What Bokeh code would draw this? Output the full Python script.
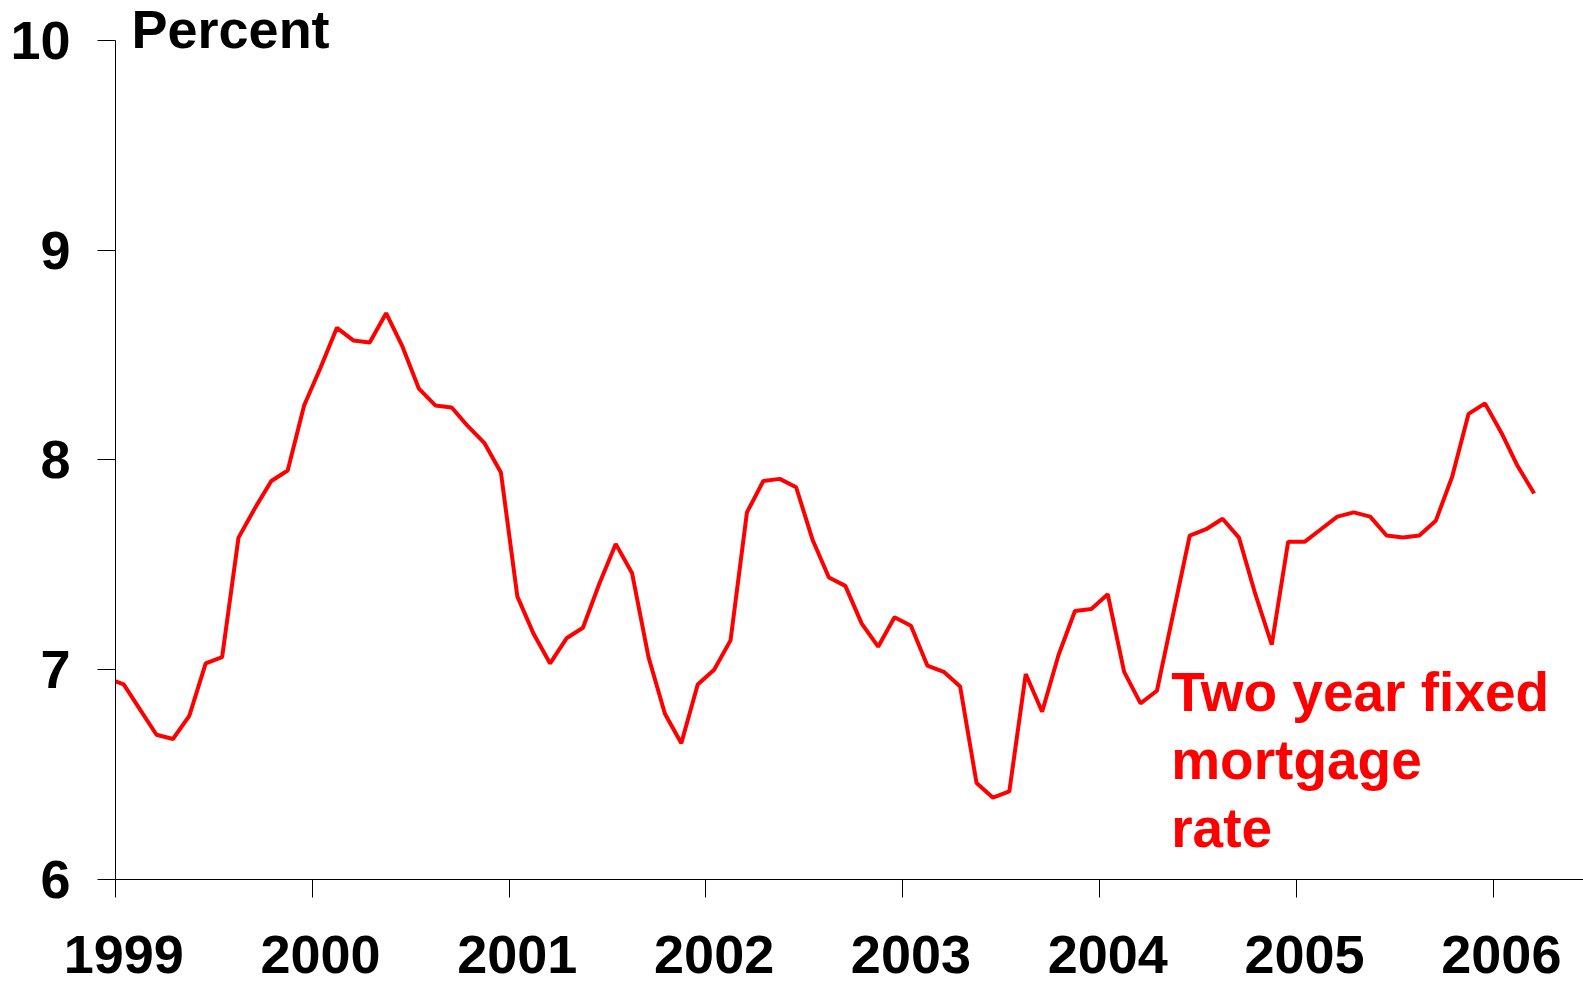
from bokeh.plotting import figure
from bokeh.models import Range1d, FixedTicker, CustomJSTickFormatter, Label
from bokeh.embed import file_html
from bokeh.resources import INLINE

# ---- data ----
start_year = 1998
start_month = 12  # first observation: December 1998 (monthly, plotted mid-month)
rate = [
    6.96,
    6.93, 6.81, 6.69, 6.67, 6.78, 7.03, 7.06, 7.63, 7.77, 7.90, 7.95, 8.26,
    8.44, 8.63, 8.57, 8.56, 8.70, 8.54, 8.34, 8.26, 8.25, 8.16, 8.08, 7.94,
    7.35, 7.17, 7.03, 7.15, 7.20, 7.41, 7.60, 7.46, 7.06, 6.79, 6.65, 6.93,
    7.00, 7.14, 7.75, 7.90, 7.91, 7.87, 7.62, 7.44, 7.40, 7.22, 7.11, 7.25,
    7.21, 7.02, 6.99, 6.92, 6.46, 6.39, 6.42, 6.98, 6.80, 7.07, 7.28, 7.29,
    7.36, 6.99, 6.84, 6.90, 7.27, 7.64, 7.67, 7.72, 7.63, 7.36, 7.12, 7.61,
    7.61, 7.67, 7.73, 7.75, 7.73, 7.64, 7.63, 7.64, 7.71, 7.92, 8.22, 8.27,
    8.13, 7.97, 7.84,
]
year_ticks = [1999, 2000, 2001, 2002, 2003, 2004, 2005, 2006]
y_ticks = [6, 7, 8, 9, 10]
series_label = "Two year fixed\nmortgage\nrate"
y_unit = "Percent"

# decimal-year positions (mid-month)
t = [start_year + (start_month - 1 + i + 0.5) / 12 for i in range(len(rate))]

FONT = "Liberation Sans"
FS = "54px"

p = figure(
    width=1583, height=983,
    x_range=Range1d(1999, 2006.459), y_range=Range1d(6, 10.1907),
    output_backend="svg", toolbar_location=None,
    min_border_left=115, min_border_right=0, min_border_top=0, min_border_bottom=104,
)
p.outline_line_color = None
p.xgrid.grid_line_color = None
p.ygrid.grid_line_color = None
p.background_fill_color = "white"
p.border_fill_color = "white"

p.line(t, rate, line_color="#FF0000", line_width=4)

# x axis: tick marks at year boundaries (minor), labels centred mid-January (major)
xa = p.xaxis[0]
xa.ticker = FixedTicker(ticks=[y + 1 / 24 for y in year_ticks], minor_ticks=year_ticks)
xa.formatter = CustomJSTickFormatter(code="return Math.floor(tick).toString();")
xa.major_tick_out = 0
xa.major_tick_in = 0
xa.minor_tick_out = 18
xa.minor_tick_in = 0
xa.minor_tick_line_color = "black"
xa.axis_line_color = "black"
xa.major_label_text_font = FONT
xa.major_label_text_font_style = "bold"
xa.major_label_text_font_size = FS
xa.major_label_text_color = "black"
xa.major_label_standoff = 38

ya = p.yaxis[0]
ya.ticker = FixedTicker(ticks=y_ticks, minor_ticks=[])
ya.bounds = (6, 10)
ya.major_tick_out = 18
ya.major_tick_in = 0
ya.minor_tick_out = 0
ya.minor_tick_in = 0
ya.axis_line_color = "black"
ya.major_tick_line_color = "black"
ya.major_label_text_font = FONT
ya.major_label_text_font_style = "bold"
ya.major_label_text_font_size = FS
ya.major_label_text_color = "black"
ya.major_label_standoff = 27

p.add_layout(Label(x=1999, y=10, x_offset=16, y_offset=11, text=y_unit,
                   text_font=FONT, text_font_style="bold", text_font_size=FS,
                   text_color="black", text_baseline="alphabetic", text_align="left"))

p.add_layout(Label(x=2004.364, y=7.04, text=series_label,
                   text_font=FONT, text_font_style="bold", text_font_size="55px",
                   text_color="#FF0000", text_baseline="top", text_align="left",
                   text_line_height=1.09))

open("out.html", "w").write(file_html(p, INLINE))
